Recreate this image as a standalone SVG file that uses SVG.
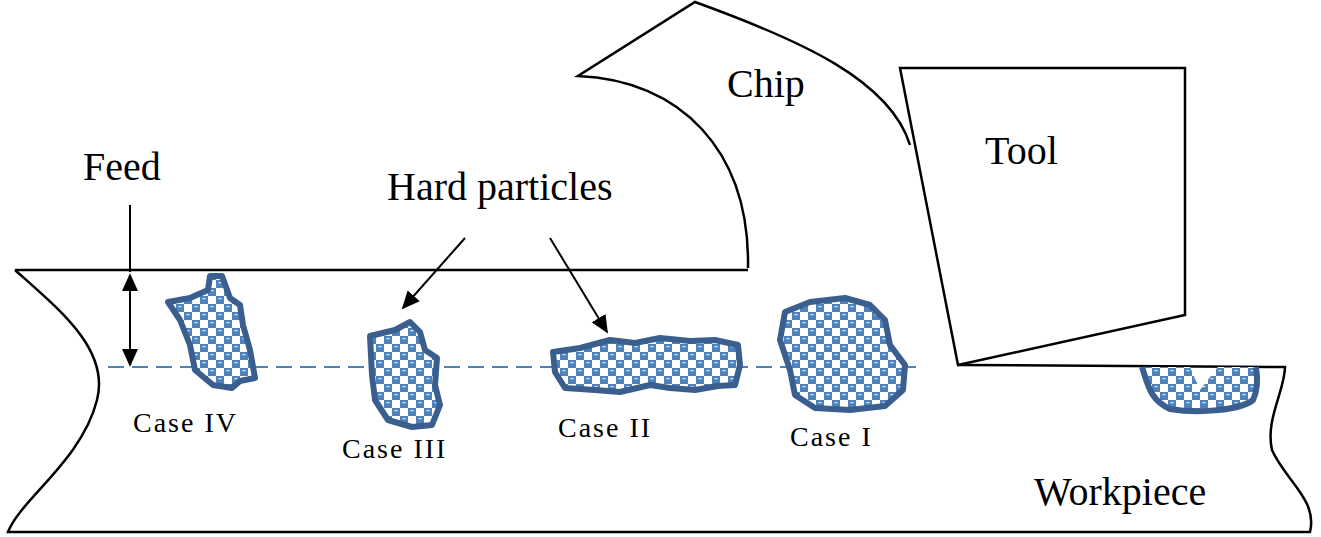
<svg xmlns="http://www.w3.org/2000/svg" width="1321" height="537" viewBox="0 0 1321 537">
<style>
.ln{fill:none;stroke:#000;stroke-width:2.5}
.pt{fill:url(#chk);stroke:#3a5f8f;stroke-width:6;stroke-linejoin:round}
.t{font-family:"Liberation Serif",serif;font-size:40px;fill:#000}
.c{font-family:"Liberation Serif",serif;font-size:28px;letter-spacing:2px;fill:#000}
</style>
<defs>
<pattern id="chk" width="16" height="16" patternUnits="userSpaceOnUse">
<rect width="16" height="16" fill="#fff"/>
<rect x="0" y="0" width="8" height="8" fill="#4f81bd"/>
<rect x="8" y="8" width="8" height="8" fill="#4f81bd"/>
<rect x="2.5" y="2" width="3" height="1.3" fill="#dce6f2"/>
<rect x="10.5" y="10" width="3" height="1.3" fill="#dce6f2"/>
</pattern>
<marker id="ah" viewBox="0 0 10 10" refX="9" refY="5" markerWidth="9" markerHeight="9" orient="auto-start-reverse"><path d="M0,0.5L10,5L0,9.5z" fill="#000"/></marker>
</defs>
<g id="workpiece">
<path class="ln" d="M15,270 L748,270"/>
<path class="ln" d="M15,270 C60,310 110,350 97,400 C82,460 20,500 8,532 L1310,532 C1318,500 1285,480 1272,450 C1265,420 1285,390 1285,367 L958,365"/>
</g>
<g id="chip">
<path class="ln" d="M748,268 C750,150 680,80 578,76 L695,2 C800,40 890,80 910,145"/>
</g>
<g id="tool">
<path class="ln" d="M900,68 L1185,68 L1185,315 L958,365 Z"/>
</g>
<g id="connectors">
<line x1="108" y1="367" x2="920" y2="367" stroke="#4f81bd" stroke-width="2" stroke-dasharray="16,8"/>
<line x1="130" y1="205" x2="130" y2="272" stroke="#000" stroke-width="2"/>
<line x1="130" y1="275" x2="130" y2="365" stroke="#000" stroke-width="2" marker-start="url(#ah)" marker-end="url(#ah)"/>
<line x1="465" y1="238" x2="403" y2="308" stroke="#000" stroke-width="2" marker-end="url(#ah)"/>
<line x1="550" y1="238" x2="607" y2="332" stroke="#000" stroke-width="2" marker-end="url(#ah)"/>
</g>
<g id="p4"><path class="pt" d="M168,302 L190,298 L208,290 L210,276 L222,276 L230,298 L240,305 L243,325 L250,350 L255,378 L240,381 L232,388 L213,385 L195,370 L190,345 L180,320 Z"/></g>
<g id="p3"><path class="pt" d="M370,336 L395,330 L410,322 L420,332 L425,350 L437,358 L435,385 L440,405 L432,425 L412,427 L388,420 L375,400 L372,375 Z"/></g>
<g id="p2"><path class="pt" d="M553,352 L580,348 L610,340 L635,343 L660,338 L690,341 L715,340 L738,345 L740,365 L735,385 L718,386 L695,390 L670,388 L650,385 L620,392 L595,390 L565,388 L555,372 Z"/></g>
<g id="p1"><path class="pt" d="M785,312 L810,302 L845,298 L870,305 L885,320 L890,345 L905,365 L903,390 L885,406 L850,410 L815,408 L795,395 L790,370 L780,340 Z"/></g>
<g id="p0"><path fill="url(#chk)" d="M1142,367 C1148,385 1150,400 1170,409 C1200,414 1240,410 1253,400 C1258,390 1258,380 1256,367 L1218,367 L1200,390 L1190,367 Z"/>
<path fill="none" stroke="#3a5f8f" stroke-width="6" d="M1142,367 C1148,385 1150,400 1170,409 C1200,414 1240,410 1253,400 C1258,390 1258,380 1256,367"/></g>
<g id="labels">
<text class="t" x="727" y="97">Chip</text>
<text class="t" x="985" y="164">Tool</text>
<text class="t" x="83" y="180">Feed</text>
<text class="t" x="387" y="200">Hard particles</text>
<text class="t" x="1034" y="505">Workpiece</text>
<text class="c" x="133" y="432">Case IV</text>
<text class="c" x="342" y="458">Case III</text>
<text class="c" x="558" y="437">Case II</text>
<text class="c" x="790" y="446">Case I</text>
</g>
</svg>
